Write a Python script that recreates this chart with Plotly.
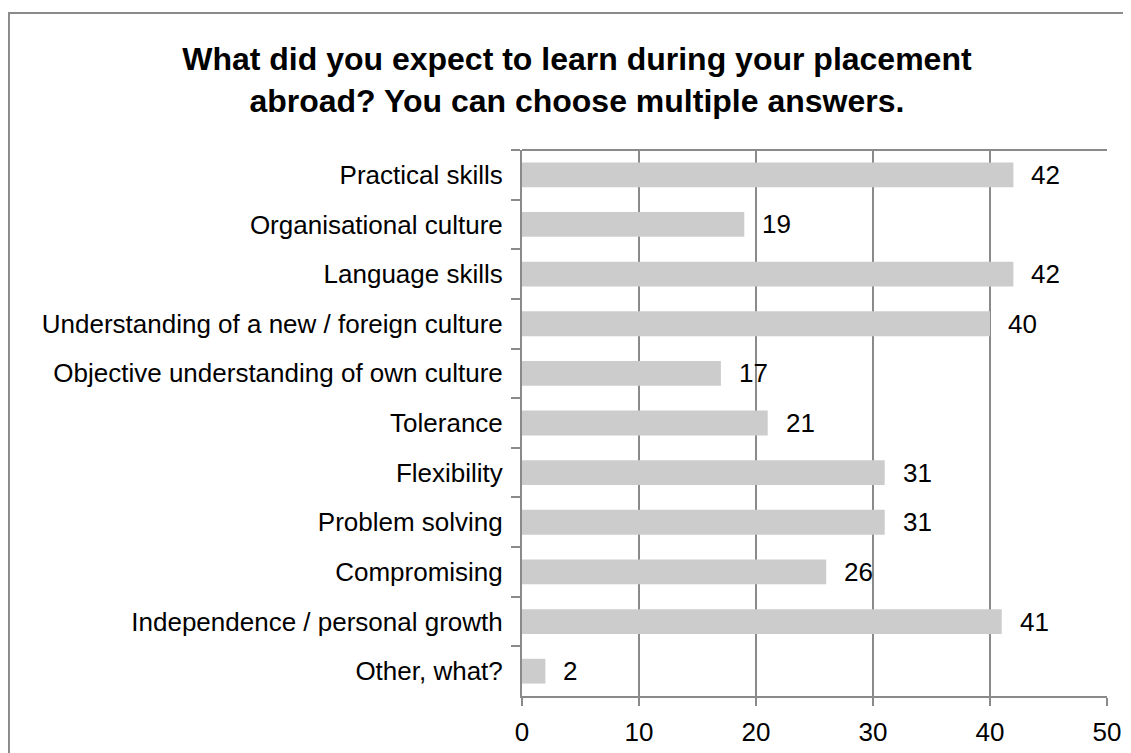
import plotly.graph_objects as go

categories = [
    "Practical skills",
    "Organisational culture",
    "Language skills",
    "Understanding of a new / foreign culture",
    "Objective understanding of own culture",
    "Tolerance",
    "Flexibility",
    "Problem solving",
    "Compromising",
    "Independence / personal growth",
    "Other, what?",
]
values = [42, 19, 42, 40, 17, 21, 31, 31, 26, 41, 2]

GRID = "#8a8a8a"
FONT = "Liberation Sans, Arial, sans-serif"

fig = go.Figure(
    go.Bar(
        x=values,
        y=categories,
        orientation="h",
        marker=dict(color="#cccccc", line=dict(width=0)),
        width=0.5,
    )
)

# value labels right of each bar
for cat, val in zip(categories, values):
    fig.add_annotation(
        x=val, y=cat, text=str(val), showarrow=False,
        xanchor="left", xshift=16,
        font=dict(family=FONT, size=26, color="#000000"),
    )

fig.update_layout(
    width=1131,
    height=753,
    margin=dict(l=514, r=32, t=142, b=65),
    paper_bgcolor="white",
    plot_bgcolor="white",
    showlegend=False,
    font=dict(family=FONT, size=26, color="#000000"),
    title=dict(
        text="<b>What did you expect to learn during your placement<br>abroad? You can choose multiple answers.</b>",
        x=0.503,
        xanchor="center",
        y=0.917,
        yanchor="middle",
        font=dict(size=32, color="#000000"),
    ),
    shapes=[
        # outer chart border (right/bottom edges fall outside the picture)
        dict(
            type="rect", xref="paper", yref="paper",
            x0=-0.877, x1=1.2, y0=-0.5, y1=1.2509,
            line=dict(color=GRID, width=2), layer="below",
        ),
        # top edge of the plot area
        dict(
            type="line", xref="paper", yref="paper",
            x0=0, x1=1, y0=1, y1=1,
            line=dict(color=GRID, width=2),
        ),
    ],
)

fig.update_xaxes(
    range=[0, 50],
    dtick=10,
    showgrid=True,
    gridcolor=GRID,
    gridwidth=2,
    showline=True,
    linecolor=GRID,
    linewidth=2,
    ticks="outside",
    ticklen=8,
    tickwidth=2,
    tickcolor=GRID,
    zeroline=False,
    tickfont=dict(size=26),
    ticklabelstandoff=4,
)

fig.update_yaxes(
    autorange="reversed",
    showline=True,
    linecolor=GRID,
    linewidth=2,
    ticks="outside",
    tickson="boundaries",
    ticklen=9,
    tickwidth=2,
    tickcolor=GRID,
    showgrid=False,
    tickfont=dict(size=26),
    ticklabelstandoff=12,
)

fig.write_html("out.html")
